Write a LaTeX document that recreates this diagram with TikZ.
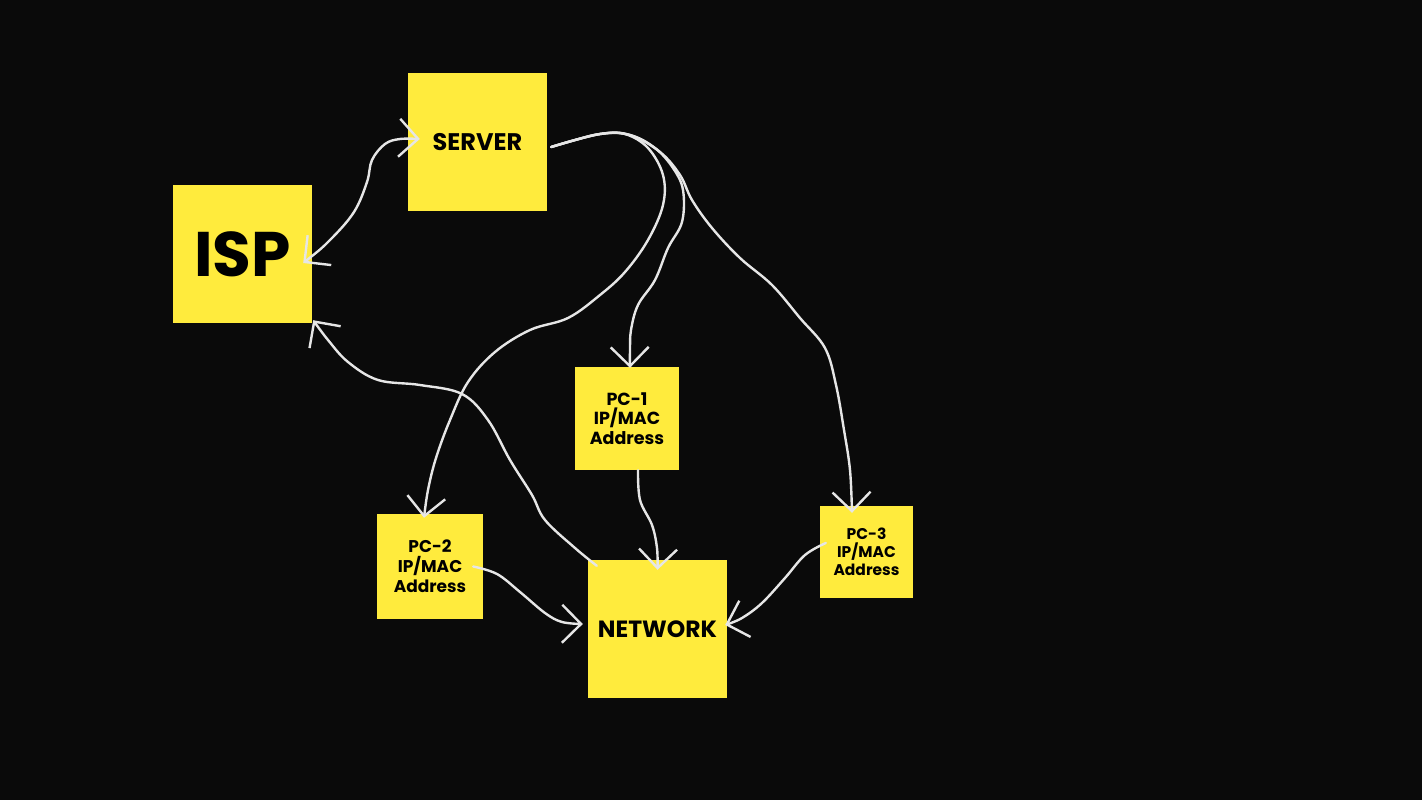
\documentclass[tikz,border=0pt]{standalone}
\usepackage{fontspec}
\setmainfont{Poppins}
\usetikzlibrary{arrows.meta}
\definecolor{bgcol}{HTML}{0A0A0A}
\definecolor{sticky}{HTML}{FFEB3D}
\definecolor{wirecol}{HTML}{E6E6E6}
\begin{document}
\begin{tikzpicture}[x=1pt,y=-1pt,
  note/.style={fill=sticky, inner sep=0pt, align=center, font=\bfseries, text=black},
  wire/.style={draw=wirecol, line width=2.4pt, line cap=round, line join=round},
  barb/.tip={Straight Barb[length=19pt,width=38pt,line width=2.4pt]},
  tipend/.style={-barb},
  tipboth/.style={barb-barb}
]
\fill[bgcol] (0,0) rectangle (1422,800);
\useasboundingbox (0,0) rectangle (1422,800);

\node[note, minimum width=139pt, minimum height=138pt, font=\bfseries\fontsize{63}{63}\selectfont] (isp) at (242.5,254) {ISP};
\node[note, minimum width=139pt, minimum height=138pt, font=\bfseries\fontsize{24}{28}\selectfont] (server) at (477.5,142) {SERVER};
\node[note, minimum width=139pt, minimum height=138pt, font=\bfseries\fontsize{23.5}{28}\selectfont] (network) at (657.5,629) {NETWORK};
\node[note, minimum width=104pt, minimum height=103pt, font=\bfseries\fontsize{17.5}{19.5}\selectfont] (pc1) at (627,418.5) {PC-1\\IP/MAC\\Address};
\node[note, minimum width=106pt, minimum height=105pt, font=\bfseries\fontsize{17}{20}\selectfont] (pc2) at (430,566.5) {PC-2\\IP/MAC\\Address};
\node[note, minimum width=93pt, minimum height=92pt, font=\bfseries\fontsize{15.5}{18}\selectfont] (pc3) at (866.5,552) {PC-3\\IP/MAC\\Address};

% ISP <-> SERVER
\draw[wire, tipboth] plot[smooth, tension=0.6] coordinates {([xshift=-9pt,yshift=-9pt]isp.east) (330,240) (354,212) (367,182) (372,160) (385,144) (400,139) ([xshift=12pt,yshift=3pt]server.west)};

% SERVER -> PC-2
\draw[wire, tipend] plot[smooth, tension=0.6] coordinates {([xshift=4pt,yshift=-5pt]server.east) (575,140) (600,134) (625,134) (648,148) (663,175) (663,205) (648,240) (625,272) (600,295) (568,318) (530,330) (495,352) (468,382) (450,420) (436,458) (428,490) ([xshift=-6pt,yshift=-4pt]pc2.north)};

% SERVER -> PC-1
\draw[wire, tipend] plot[smooth, tension=0.6] coordinates {([xshift=4pt,yshift=-5pt]server.east) (600,134) (630,135) (655,148) (673,168) (683,190) (682,222) (668,248) (655,280) (638,305) (631,330) (630,350) ([xshift=3pt,yshift=-1pt]pc1.north)};

% SERVER -> PC-3
\draw[wire, tipend] plot[smooth, tension=0.6] coordinates {([xshift=4pt,yshift=-5pt]server.east) (600,134) (630,135) (660,152) (680,175) (692,200) (712,228) (740,258) (772,285) (800,318) (825,348) (836,385) (844,430) (850,470) ([xshift=-14.5pt,yshift=-7pt]pc3.north)};

% PC-1 -> NETWORK
\draw[wire, tipend] plot[smooth, tension=0.6] coordinates {([xshift=11pt]pc1.south) (640,500) (652,525) (657,548) ([yshift=-10pt]network.north)};

% PC-2 -> NETWORK
\draw[wire, tipend] plot[smooth, tension=0.6] coordinates {([xshift=-10pt]pc2.east) (497,574) (520,592) (545,613) (562,622) ([xshift=-5pt,yshift=5pt]network.west)};

% PC-3 -> NETWORK
\draw[wire, tipend] plot[smooth, tension=0.6] coordinates {([xshift=6pt,yshift=9pt]pc3.west) (805,555) (785,578) (762,603) (742,618) ([xshift=-2pt,yshift=4pt]network.east)};

% NETWORK -> ISP
\draw[wire, tipend] plot[smooth, tension=0.6] coordinates {([xshift=9pt,yshift=-6pt]network.north west) (575,548) (545,520) (532,495) (510,460) (488,420) (462,394) (420,385) (378,380) (348,362) (328,340) ([xshift=1pt,yshift=3pt]isp.south east)};
\end{tikzpicture}
\end{document}
